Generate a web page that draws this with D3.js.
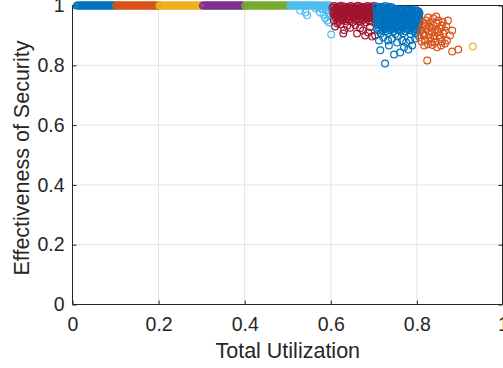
<!DOCTYPE html>
<html lang='en'>
<head>
    <meta charset='UTF-8'>
    <title>Effectiveness of Security vs Total Utilization</title>
    <style>
        html, body {
            margin: 0;
            padding: 0;
            background: #fff;
        }
        svg {
            display: block;
            font-family: 'Liberation Sans', Arial, Helvetica, sans-serif;
        }
        .grid line {
            stroke: #e3e3e3;
            stroke-width: 1px;
        }
        .axis path { display: none; }
        .axis line { stroke: #262626; }
        .axis text { fill: #262626; font-size: 19.5px; }
        .box { stroke: #262626; fill: none; stroke-width: 1px; }
        .label { fill: #262626; font-size: 21.5px; }
        .pt { fill: none; stroke-width: 1.2px; }
    </style>
</head>
<body>
    <div id="chart"></div>
    <script src='https://d3js.org/d3.v7.min.js'></script>
    <script>
        // tick values / labels
        const xTicks = [0, 0.2, 0.4, 0.6, 0.8, 1]
        const xTickLabels = ['0', '0.2', '0.4', '0.6', '0.8', '1']
        const yTicks = [0, 0.2, 0.4, 0.6, 0.8, 1]
        const yTickLabels = ['0', '0.2', '0.4', '0.6', '0.8', '1']

        // task sets whose security effectiveness is exactly 1 (x = total utilization)
        const fullSec = 1
        const blueLowX = [0.010,0.013,0.015,0.018,0.021,0.023,0.026,0.029,0.031,0.034,0.037,0.040,0.042,0.045,0.048,0.050,0.053,0.056,0.058,0.061,0.064,0.067,0.069,0.072,0.075,0.077,0.080,0.083,0.085,0.088,0.091,0.094,0.096,0.099]
        const orangeLowX = [0.101,0.104,0.106,0.109,0.112,0.114,0.117,0.120,0.123,0.125,0.128,0.131,0.133,0.136,0.139,0.142,0.144,0.147,0.150,0.152,0.155,0.158,0.161,0.163,0.166,0.169,0.171,0.174,0.177,0.180,0.182,0.185,0.188,0.190,0.193,0.196,0.199]
        const yellowLowX = [0.202,0.205,0.207,0.210,0.213,0.215,0.218,0.221,0.224,0.226,0.229,0.232,0.234,0.237,0.240,0.243,0.245,0.248,0.251,0.253,0.256,0.259,0.262,0.264,0.267,0.270,0.272,0.275,0.278,0.281,0.283,0.286,0.289,0.291,0.294,0.297,0.300]
        const purpleX = [0.303,0.306,0.308,0.311,0.314,0.316,0.319,0.322,0.325,0.327,0.330,0.333,0.335,0.338,0.341,0.344,0.346,0.349,0.352,0.354,0.357,0.360,0.363,0.365,0.368,0.371,0.373,0.376,0.379,0.382,0.384,0.387,0.390,0.392,0.395,0.398]
        const greenX = [0.401,0.404,0.407,0.409,0.412,0.415,0.417,0.420,0.423,0.426,0.428,0.431,0.434,0.436,0.439,0.442,0.445,0.447,0.450,0.453,0.455,0.458,0.461,0.464,0.466,0.469,0.472,0.474,0.477,0.480,0.483,0.485,0.488,0.491,0.493,0.496,0.499,0.502]
        const lightBlueX = [0.505,0.508,0.510,0.513,0.516,0.518,0.521,0.524,0.527,0.529,0.532,0.535,0.537,0.540,0.543,0.546,0.548,0.551,0.554,0.556,0.559,0.562,0.565,0.567,0.570,0.573,0.575,0.578,0.581,0.584,0.586,0.589,0.592,0.595,0.598]

        // [utilization, effectiveness] pairs
        const lightBluePts = [[0.529,0.983],[0.541,0.977],[0.545,0.967],[0.575,0.977],[0.587,0.957],[0.592,0.950],[0.596,0.943],[0.601,0.903],[0.565,0.990],[0.580,0.988],[0.590,0.985],[0.595,0.975],[0.598,0.965],[0.583,0.970],[0.570,0.993],[0.600,0.990],[0.602,0.980],[0.588,0.993]]

        const redPts = [
            [0.608,0.998],[0.616,0.996],[0.623,0.999],[0.631,0.997],[0.639,0.995],[0.646,0.998],[0.654,0.996],[0.662,0.999],[0.669,0.997],[0.677,0.995],[0.685,0.998],[0.692,0.996],[0.700,0.998],
            [0.604,0.993],[0.612,0.992],[0.620,0.994],[0.627,0.991],[0.635,0.993],[0.643,0.992],[0.650,0.994],[0.658,0.991],[0.666,0.993],[0.673,0.992],[0.681,0.994],[0.689,0.991],[0.696,0.993],[0.703,0.992],
            [0.611,0.987],[0.619,0.989],[0.627,0.986],[0.635,0.988],[0.642,0.985],[0.650,0.989],[0.658,0.987],[0.665,0.985],[0.673,0.988],[0.681,0.986],[0.688,0.989],[0.696,0.987],[0.703,0.985],
            [0.607,0.982],[0.615,0.983],[0.623,0.981],[0.631,0.984],[0.639,0.982],[0.646,0.980],[0.654,0.983],[0.662,0.981],[0.669,0.984],[0.677,0.982],[0.685,0.980],[0.692,0.983],[0.700,0.981],
            [0.607,0.977],[0.614,0.979],[0.622,0.976],[0.630,0.978],[0.638,0.975],[0.645,0.979],[0.653,0.977],[0.661,0.975],[0.668,0.978],[0.676,0.976],[0.684,0.979],[0.691,0.977],[0.699,0.975],
            [0.606,0.972],[0.614,0.971],[0.622,0.973],[0.630,0.970],[0.637,0.972],[0.645,0.974],[0.653,0.971],[0.661,0.973],[0.668,0.970],[0.676,0.972],[0.684,0.974],[0.691,0.971],[0.699,0.973],
            [0.610,0.967],[0.618,0.969],[0.626,0.966],[0.633,0.968],[0.641,0.965],[0.649,0.969],[0.657,0.967],[0.664,0.965],[0.672,0.968],[0.679,0.966],[0.687,0.969],[0.695,0.967],[0.702,0.965],
            [0.614,0.962],[0.622,0.961],[0.630,0.963],[0.638,0.960],[0.646,0.962],[0.654,0.961],[0.662,0.963],[0.670,0.960],[0.678,0.962],[0.686,0.961],[0.694,0.963],[0.701,0.960],
            [0.612,0.957],[0.621,0.955],[0.629,0.958],[0.637,0.956],[0.644,0.954],[0.652,0.958],[0.660,0.956],[0.667,0.954],[0.675,0.957],[0.683,0.955],[0.690,0.958],[0.698,0.956],
            [0.607,0.951],[0.625,0.950],[0.642,0.952],[0.659,0.950],[0.674,0.951],[0.690,0.949],
            [0.617,0.946],[0.634,0.948],[0.651,0.945],[0.666,0.947],[0.682,0.944],[0.697,0.946],
            [0.629,0.906],[0.661,0.906],[0.680,0.900],[0.696,0.896],[0.703,0.900],[0.622,0.937],[0.615,0.940],[0.645,0.926],[0.675,0.916],[0.687,0.910],[0.657,0.935],[0.638,0.932],[0.691,0.928],[0.668,0.924],[0.631,0.918],[0.610,0.930]
        ]

        const bluePts = [
            [0.708,0.997],[0.717,0.995],[0.726,0.998],[0.735,0.996],[0.742,0.994],[0.751,0.988],[0.760,0.986],[0.769,0.987],[0.778,0.985],[0.788,0.984],
            [0.704,0.993],[0.713,0.992],[0.722,0.994],[0.731,0.991],[0.740,0.990],
            [0.712,0.986],[0.721,0.988],[0.730,0.985],[0.739,0.987],[0.748,0.986],[0.757,0.986],[0.766,0.986],[0.775,0.985],[0.784,0.986],[0.793,0.984],[0.801,0.982],
            [0.707,0.982],[0.716,0.981],[0.725,0.983],[0.734,0.980],[0.743,0.982],[0.752,0.981],[0.761,0.983],[0.770,0.980],[0.779,0.982],[0.788,0.981],[0.797,0.983],[0.804,0.980],
            [0.708,0.977],[0.717,0.975],[0.726,0.978],[0.735,0.976],[0.744,0.974],[0.753,0.978],[0.762,0.976],[0.771,0.974],[0.780,0.977],[0.789,0.975],[0.798,0.978],[0.806,0.974],
            [0.707,0.971],[0.716,0.972],[0.725,0.971],[0.734,0.973],[0.743,0.970],[0.752,0.972],[0.761,0.971],[0.770,0.973],[0.779,0.970],[0.788,0.972],[0.797,0.971],[0.805,0.969],
            [0.712,0.966],[0.721,0.968],[0.730,0.965],[0.739,0.967],[0.748,0.964],[0.757,0.968],[0.766,0.966],[0.775,0.969],[0.784,0.965],[0.793,0.967],[0.802,0.964],
            [0.707,0.962],[0.716,0.961],[0.725,0.963],[0.734,0.960],[0.743,0.962],[0.752,0.961],[0.761,0.963],[0.770,0.960],[0.779,0.962],[0.788,0.961],[0.797,0.963],[0.805,0.960],
            [0.708,0.957],[0.717,0.955],[0.726,0.958],[0.735,0.956],[0.744,0.954],[0.753,0.957],[0.762,0.955],[0.771,0.958],[0.780,0.956],[0.789,0.954],[0.798,0.957],[0.806,0.955],
            [0.707,0.951],[0.716,0.952],[0.725,0.951],[0.734,0.953],[0.743,0.950],[0.752,0.952],[0.761,0.951],[0.770,0.953],[0.779,0.950],[0.788,0.952],[0.797,0.951],[0.806,0.949],
            [0.712,0.946],[0.721,0.948],[0.730,0.945],[0.739,0.947],[0.748,0.944],[0.757,0.948],[0.766,0.946],[0.775,0.944],[0.784,0.947],[0.793,0.945],[0.802,0.948],
            [0.707,0.942],[0.716,0.941],[0.725,0.943],[0.734,0.940],[0.743,0.942],[0.752,0.941],[0.761,0.943],[0.770,0.940],[0.779,0.942],[0.788,0.941],[0.797,0.943],[0.804,0.940],
            [0.708,0.936],[0.717,0.938],[0.726,0.935],[0.735,0.937],[0.744,0.939],[0.753,0.936],[0.762,0.934],[0.771,0.937],[0.780,0.935],[0.789,0.938],[0.798,0.936],[0.805,0.933],
            [0.716,0.932],[0.725,0.931],[0.734,0.933],[0.743,0.930],[0.752,0.932],[0.761,0.931],[0.770,0.933],[0.779,0.930],[0.788,0.932],[0.797,0.931],
            [0.712,0.926],[0.721,0.928],[0.730,0.925],[0.739,0.927],[0.748,0.924],[0.757,0.928],[0.766,0.926],[0.775,0.924],[0.784,0.927],[0.793,0.925],[0.802,0.928],
            [0.707,0.922],[0.725,0.921],[0.743,0.922],[0.761,0.920],[0.779,0.922],[0.797,0.921],
            [0.710,0.916],[0.719,0.918],[0.728,0.915],[0.737,0.917],[0.746,0.914],[0.755,0.918],[0.764,0.916],[0.773,0.914],[0.782,0.917],[0.791,0.915],[0.800,0.918],
            [0.716,0.906],[0.733,0.908],[0.750,0.905],[0.768,0.907],[0.786,0.904],[0.797,0.908],
            [0.715,0.850],[0.726,0.806],[0.735,0.866],[0.747,0.836],[0.761,0.843],[0.770,0.860],[0.780,0.853],[0.789,0.866],[0.754,0.876],[0.722,0.893],[0.784,0.883],[0.742,0.890],[0.766,0.883],[0.796,0.890],[0.733,0.883],[0.775,0.876],[0.756,0.896],[0.803,0.900],[0.712,0.883]
        ]

        const orangePts = [[0.826,0.960],[0.838,0.957],[0.819,0.933],[0.835,0.926],[0.847,0.940],[0.858,0.933],[0.861,0.906],[0.854,0.893],[0.842,0.876],[0.831,0.893],[0.814,0.906],[0.819,0.883],[0.870,0.883],[0.882,0.916],[0.877,0.900],[0.865,0.873],[0.882,0.846],[0.896,0.853],[0.847,0.860],[0.824,0.816],[0.835,0.910],[0.812,0.926],[0.807,0.893],[0.849,0.910],[0.821,0.950],[0.831,0.943],[0.810,0.916],[0.840,0.900],[0.826,0.870],[0.865,0.916],[0.854,0.923],[0.845,0.963],[0.817,0.866],[0.872,0.950],[0.856,0.866],
            [0.815,0.940],[0.822,0.920],[0.828,0.905],[0.833,0.880],[0.838,0.935],[0.843,0.918],[0.850,0.950],[0.817,0.900],[0.829,0.930],[0.841,0.890],[0.852,0.900],[0.860,0.945],[0.811,0.880],[0.836,0.868],[0.858,0.880],[0.868,0.930]]

        const yellowPts = [[0.930,0.863]]

        const toPts = xs => xs.map(x => [x, fullSec])
        const series = [
            { color: '#0072BD', pts: toPts(blueLowX) },
            { color: '#D95319', pts: toPts(orangeLowX) },
            { color: '#EDB120', pts: toPts(yellowLowX) },
            { color: '#7E2F8E', pts: toPts(purpleX) },
            { color: '#77AC30', pts: toPts(greenX) },
            { color: '#4DBEEE', pts: toPts(lightBlueX).concat(lightBluePts) },
            { color: '#A2142F', pts: redPts },
            { color: '#0072BD', pts: bluePts },
            { color: '#D95319', pts: orangePts },
            { color: '#EDB120', pts: yellowPts }
        ]

        const width = 503
        const height = 368
        const mLeft = 72.5, mRight = 503, mTop = 5.5, mBottom = 304.5
        const tickLen = 4

        const x = d3.scaleLinear().domain([0, 1]).range([mLeft, mRight])
        const y = d3.scaleLinear().domain([0, 1]).range([mBottom, mTop])

        const svg = d3.select('#chart')
            .append('svg')
            .attr('width', width)
            .attr('height', height)

        // grid
        const grid = svg.append('g').attr('class', 'grid')
        grid.selectAll('.gx')
            .data(xTicks.slice(1, -1))
            .enter().append('line')
            .attr('x1', d => x(d)).attr('x2', d => x(d))
            .attr('y1', mTop).attr('y2', mBottom)
        grid.selectAll('.gy')
            .data(yTicks.slice(1, -1))
            .enter().append('line')
            .attr('y1', d => y(d)).attr('y2', d => y(d))
            .attr('x1', mLeft).attr('x2', mRight)

        // axes with inward ticks (matlab style)
        svg.append('g')
            .attr('class', 'axis')
            .attr('transform', `translate(0,${mBottom})`)
            .call(d3.axisBottom(x).tickValues(xTicks).tickSize(-tickLen).tickPadding(13)
                .tickFormat((d, i) => xTickLabels[i]))
        svg.append('g')
            .attr('class', 'axis')
            .attr('transform', `translate(${mLeft},0)`)
            .call(d3.axisLeft(y).tickValues(yTicks).tickSize(-tickLen).tickPadding(8)
                .tickFormat((d, i) => yTickLabels[i]))
        svg.append('g')
            .attr('class', 'axis')
            .attr('transform', `translate(0,${mTop})`)
            .call(d3.axisTop(x).tickValues(xTicks).tickSize(-tickLen).tickFormat(''))
        svg.append('g')
            .attr('class', 'axis')
            .attr('transform', `translate(${mRight - 0.5},0)`)
            .call(d3.axisRight(y).tickValues(yTicks).tickSize(-tickLen).tickFormat(''))

        svg.append('path')
            .attr('class', 'box')
            .attr('d', `M${mLeft},${mTop}H${mRight - 0.5}V${mBottom}H${mLeft}Z`)

        // scatter
        const dots = svg.append('g').attr('class', 'dots')
        series.forEach(s => {
            dots.append('g')
                .selectAll('circle')
                .data(s.pts)
                .enter().append('circle')
                .attr('class', 'pt')
                .attr('cx', d => x(d[0]))
                .attr('cy', d => y(d[1]))
                .attr('r', 3.4)
                .attr('stroke', s.color)
        })

        // labels
        svg.append('text')
            .attr('class', 'label')
            .attr('x', (mLeft + mRight) / 2)
            .attr('y', 358)
            .attr('text-anchor', 'middle')
            .text('Total Utilization')

        svg.append('text')
            .attr('class', 'label')
            .attr('transform', `translate(29,${(mTop + mBottom) / 2 + 3}) rotate(-90)`)
            .attr('text-anchor', 'middle')
            .text('Effectiveness of Security')
    </script>
</body>
</html>
